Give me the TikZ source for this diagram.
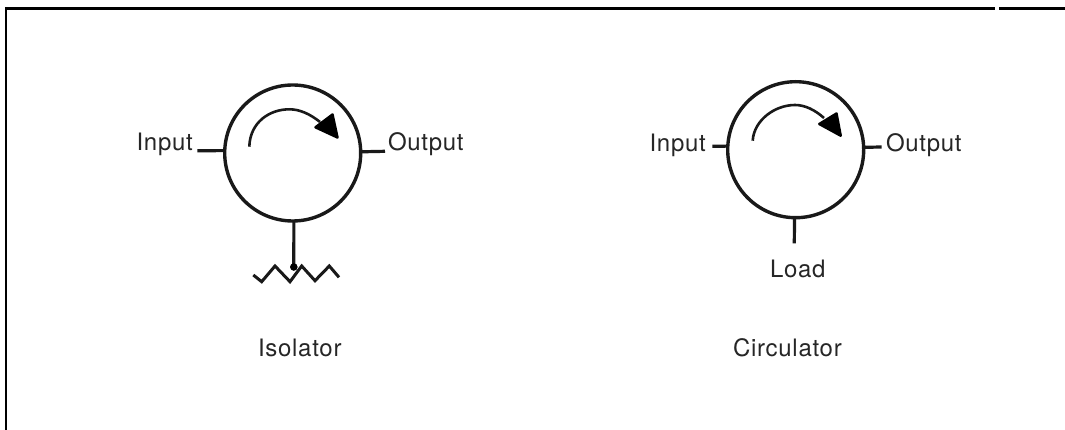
\documentclass[tikz,border=0pt]{standalone}
\usepackage{fontspec}
\newfontfamily\labfont[LetterSpace=3]{TeX Gyre Heros}
\tikzset{
  x=1pt,y=-1pt,
  ring/.style={circle,draw=black!90,line width=3.4pt,minimum size=136pt,inner sep=0pt,outer sep=0pt},
  stub/.style={draw=black!90,line width=3.2pt},
  tag/.style={anchor=base west,inner sep=0pt,outer sep=0pt,text=black!85,font=\labfont\fontsize{24}{28}\selectfont},
  headfill/.style={fill=black,draw=black,line width=2.5pt,line join=round},
}
\begin{document}
\begin{tikzpicture}
\useasboundingbox (0,0) rectangle (1065,430);
\fill[white] (0,0) rectangle (1065,430);
% frame
\coordinate (fa) at (6,430);
\coordinate (fb) at (6,8.5);
\coordinate (fc) at (995,8.5);
\coordinate (fd) at (999,8.5);
\coordinate (fe) at (1065,8.5);
\draw[black,line width=2.6pt] (fa) -- (fb) -- (fc);
\draw[black,line width=3pt] (fd) -- (fe);
% isolator
\node[ring] (iso) at (292.7,153) {};
\coordinate (isoin) at (197.3,150.7);
\coordinate (isoout) at (385,151.3);
\coordinate (isodot) at (293.8,267);
\draw[stub] (iso.178.1) -- (isoin);
\draw[stub] (iso.1.4) -- (isoout);
\draw[stub] (iso.-89) -- (isodot);
\fill[black] (isodot) circle (3.8);
\draw[line width=3pt,black!90,line join=miter] (253.3,275) -- (261.7,281.7) -- (275,266) -- (290,281.7) -- (301.7,266) -- (315,280.7) -- (329.3,266) -- (339,277.3);
\draw[line width=2.6pt,black!90] (249.3,146.7) .. controls (250,122) and (270,109) .. (290,109.3) .. controls (300,109.5) and (310,114) .. (320,122);
\fill[headfill] (315.5,127.3) -- (332.5,114.5) -- (337.5,137.5) -- cycle;
\node[tag] (isoinl) at (136.5,151) {Input};
\node[tag] (isooutl) at (388,151) {Output};
\node[tag] (isoname) at (258,356) {Isolator};
% circulator
\node[ring] (cir) at (795.7,149.7) {};
\coordinate (cirin) at (712.3,146.2);
\coordinate (cirout) at (881.7,147);
\coordinate (cirload) at (794.3,243.3);
\draw[stub] (cir.177.1) -- (cirin);
\draw[stub] (cir.2.2) -- (cirout);
\draw[stub] (cir.-91) -- (cirload);
\draw[line width=2.6pt,black!90] (752.7,140.7) .. controls (754,120) and (775,105) .. (795,105) .. controls (805,105) and (815,110) .. (824,118);
\fill[headfill] (819.3,124) -- (836.5,113.5) -- (840.7,135.7) -- cycle;
\node[tag] (cirinl) at (649.5,151.7) {Input};
\node[tag] (ciroutl) at (886,152) {Output};
\node[tag] (cirloadl) at (770,277.7) {Load};
\node[tag] (cirname) at (733,356) {Circulator};
\end{tikzpicture}
\end{document}
